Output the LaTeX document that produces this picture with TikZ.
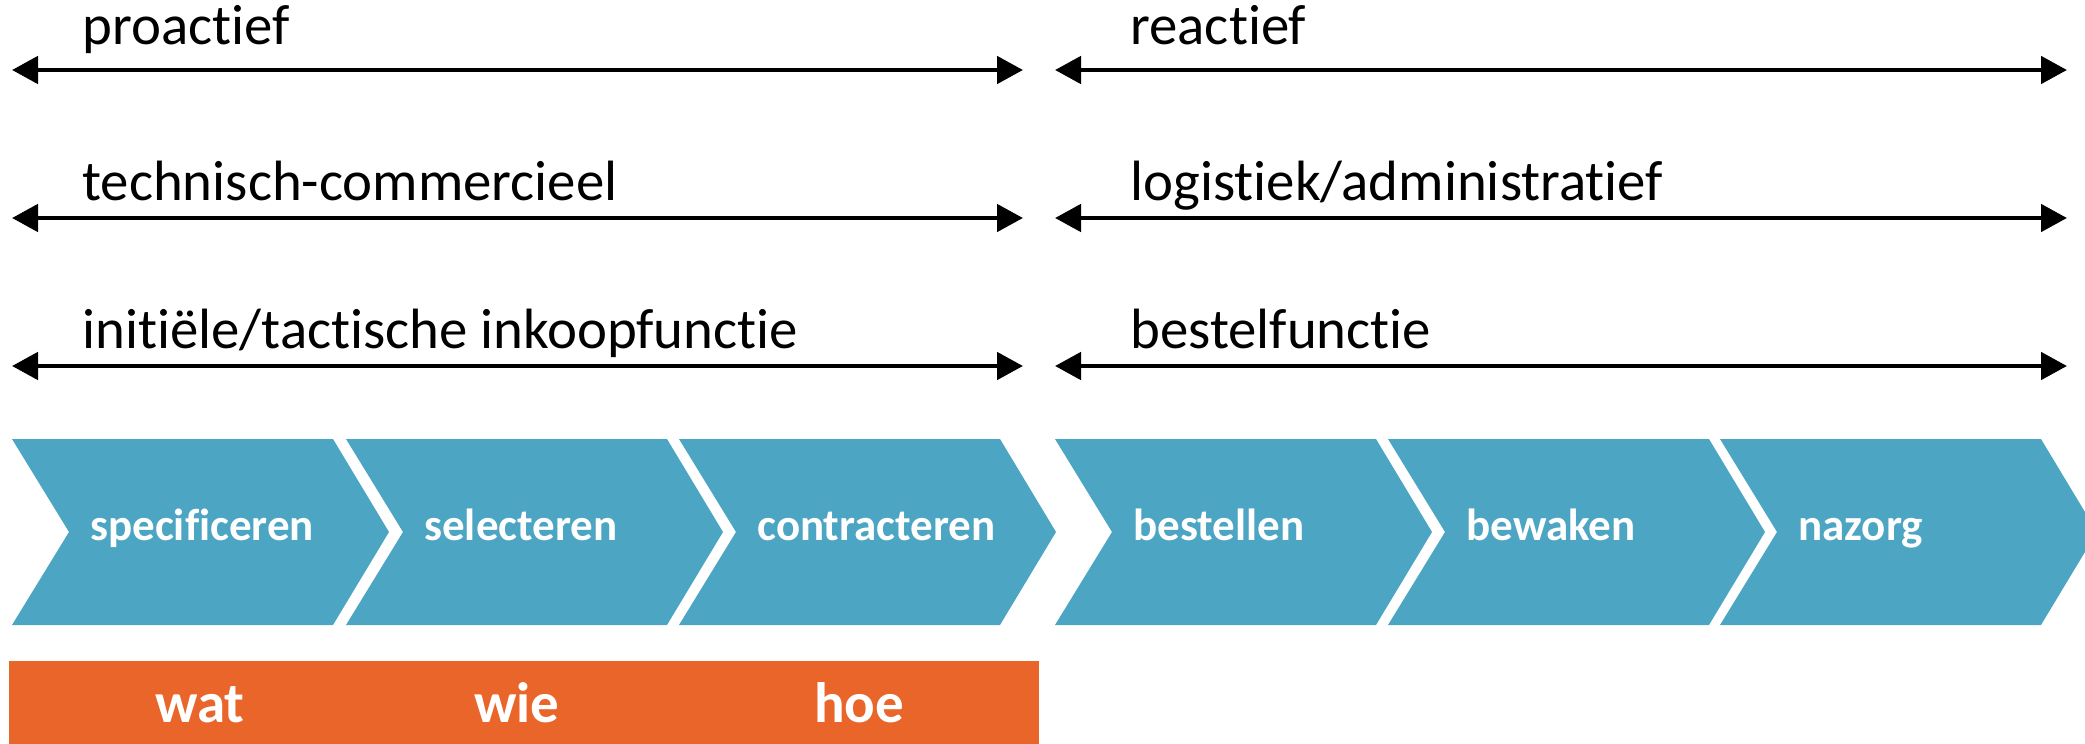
\documentclass[tikz,border=0pt]{standalone}
\usepackage{fontspec}
\setmainfont{Carlito}[Ligatures={NoCommon,NoContextual}]
\usetikzlibrary{arrows.meta}
\definecolor{chevblue}{RGB}{75,165,195}
\definecolor{barorange}{RGB}{233,101,41}
\tikzset{
  dimline/.style={line width=2.4pt,{Triangle[length=13pt,width=13.5pt]}-{Triangle[length=13pt,width=13.5pt]}},
  rowlabel/.style={anchor=base west,inner sep=0pt,font=\fontsize{28.4}{32}\selectfont},
  chevlabel/.style={anchor=base west,inner sep=0pt,text=white,font=\bfseries\fontsize{22.5}{26}\selectfont},
  barlabel/.style={anchor=base,inner sep=0pt,text=white,font=\bfseries\fontsize{28.5}{32}\selectfont},
  chevfill/.style={fill=chevblue,draw=none},
}
\begin{document}
\begin{tikzpicture}[x=0.5pt,y=-0.5pt]
\useasboundingbox (0,0) rectangle (2085,744);
\clip (0,0) rectangle (2085,744);
% arrows rows
\foreach \r/\y in {1/70,2/218,3/366}{
  \coordinate (l\r a) at (12,\y);
  \coordinate (l\r b) at (1023,\y);
  \coordinate (r\r a) at (1055,\y);
  \coordinate (r\r b) at (2067,\y);
  \draw[dimline] (l\r a) -- (l\r b);
  \draw[dimline] (r\r a) -- (r\r b);
}
\node[rowlabel] (t1l) at (82,45) {proactief};
\node[rowlabel] (t1r) at (1130,45) {reactief};
\node[rowlabel] (t2l) at (82,200) {technisch-commercieel};
\node[rowlabel] (t2r) at (1130,200) {logistiek/administratief};
\node[rowlabel] (t3l) at (82,348) {initiële/tactische inkoopfunctie};
\node[rowlabel] (t3r) at (1130,348) {bestelfunctie};
% chevrons
\foreach \L/\txt/\nm in {12/specificeren/c1,346/selecteren/c2,679/contracteren/c3,1055/bestellen/c4,1388/bewaken/c5,1720/nazorg/c6}{
  \fill[chevfill] (\L,439) -- (\L+321,439) -- (\L+377,532) -- (\L+321,625) -- (\L,625) -- (\L+57,532) -- cycle;
  \node[chevlabel] (\nm) at (\L+78,540) {\txt};
}
% orange bar
\fill[barorange] (9,661) rectangle (1039,750);
\node[barlabel] (wat) at (200,722) {wat};
\node[barlabel] (wie) at (517,722) {wie};
\node[barlabel] (hoe) at (859,722) {hoe};
\end{tikzpicture}
\end{document}
